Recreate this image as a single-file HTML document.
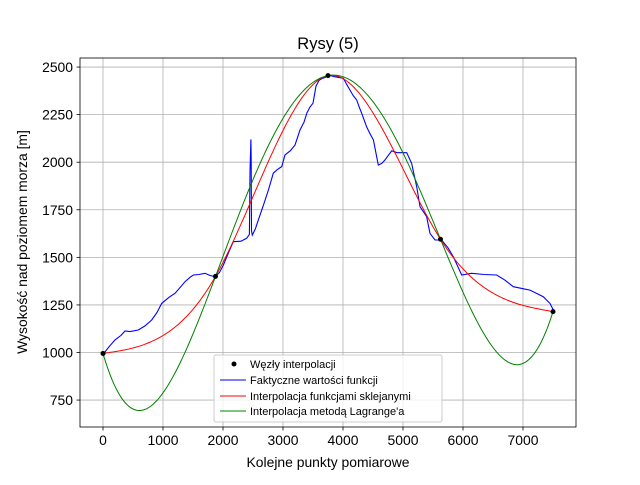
<!DOCTYPE html>
<html><head><meta charset="utf-8"><style>
body{margin:0;background:#fff}
svg text{font-family:"Liberation Sans","DejaVu Sans",sans-serif;fill:#000}
</style></head><body>
<svg id="chart" width="640" height="480" xmlns="http://www.w3.org/2000/svg">
<rect width="640" height="480" fill="#fff"/>
<g id="grid"></g>
<g id="plot"></g>
<rect x="80" y="58" width="496" height="369" fill="none" stroke="#000" stroke-width="0.8"/>
<g id="ticks"></g>
<text x="328" y="49" font-size="16.5" text-anchor="middle">Rysy (5)</text>
<text x="328" y="467" font-size="13.9" text-anchor="middle">Kolejne punkty pomiarowe</text>
<text transform="translate(27,242) rotate(-90)" font-size="13.9" text-anchor="middle">Wysokość nad poziomem morza [m]</text>
<g>
<rect x="214" y="355" width="228" height="67" fill="#fff" fill-opacity="0.8" stroke="#ccc" rx="2"/>
<circle cx="234" cy="364" r="2.5" fill="#000"/>
<text x="250" y="368" font-size="11">Węzły interpolacji</text>
<line x1="220" x2="246" y1="380" y2="380" stroke="blue"/>
<text x="250" y="384" font-size="11">Faktyczne wartości funkcji</text>
<line x1="220" x2="246" y1="396" y2="396" stroke="red"/>
<text x="250" y="400" font-size="11">Interpolacja funkcjami sklejanymi</text>
<line x1="220" x2="246" y1="411" y2="411" stroke="green"/>
<text x="250" y="415" font-size="11">Interpolacja metodą Lagrange'a</text>
</g>
</svg>
<script>
const nodeX=[0,1875,3750,5625,7500];
const nodeY=[995,1400,2455,1595,1215];
const actualX=[0,100,200,300,367,450,589,700,811,900,978,1100,1200,1280,1367,1450,1506,1600,1700,1780,1867,1940,2006,2100,2172,2300,2394,2440,2450,2465,2470,2475,2489,2540,2589,2680,2756,2839,2900,2978,3033,3120,3200,3283,3350,3400,3450,3500,3550,3600,3650,3700,3756,3850,4006,4060,4117,4170,4228,4270,4311,4394,4450,4506,4589,4650,4700,4811,4900,5061,5144,5228,5283,5394,5450,5533,5644,5750,5839,5978,6144,6350,6561,6700,6839,7000,7117,7339,7450,7506];
const actualY=[990,1030,1066,1090,1113,1110,1118,1140,1171,1210,1258,1290,1311,1340,1372,1395,1407,1410,1416,1405,1398,1420,1460,1530,1582,1585,1600,1620,1950,2120,2000,1640,1617,1650,1696,1780,1854,1942,1960,1977,2038,2060,2090,2169,2210,2260,2290,2310,2400,2430,2440,2445,2458,2450,2441,2410,2379,2350,2327,2290,2257,2186,2150,2117,1985,1995,2012,2060,2050,2050,1994,1871,1766,1714,1626,1591,1591,1550,1503,1407,1416,1410,1407,1380,1346,1335,1328,1293,1258,1223];
const xTicks=[0,1000,2000,3000,4000,5000,6000,7000];
const yTicks=[750,1000,1250,1500,1750,2000,2250,2500];
const NS='http://www.w3.org/2000/svg';
function X(v){return 103+v*0.06;}
function Y(v){return 352.5-(v-1000)*0.1903;}
function mk(tag,attrs,parent){const e=document.createElementNS(NS,tag);for(const k in attrs)e.setAttribute(k,attrs[k]);parent.appendChild(e);return e;}
const grid=document.getElementById('grid'),ticks=document.getElementById('ticks'),plot=document.getElementById('plot');
xTicks.forEach(t=>{const x=X(t);
const g=mk('line',{x1:x,x2:x,y1:58,y2:427,stroke:'#b0b0b0','stroke-width':0.8},grid);


mk('line',{x1:x,x2:x,y1:427,y2:430.5,stroke:'#000','stroke-width':0.8},ticks);
const tx=mk('text',{x:x,y:445,'font-size':13.9,'text-anchor':'middle'},ticks);tx.textContent=t;

});
yTicks.forEach(t=>{const y=Y(t);
const g=mk('line',{x1:80,x2:576,y1:y,y2:y,stroke:'#b0b0b0','stroke-width':0.8},grid);


mk('line',{x1:76.5,x2:80,y1:y,y2:y,stroke:'#000','stroke-width':0.8},ticks);
const tx=mk('text',{x:73,y:y+5,'font-size':13.9,'text-anchor':'end'},ticks);tx.textContent=t;

});
let d='';actualX.forEach((v,i)=>{d+=(i?'L':'M')+X(v).toFixed(1)+','+Y(actualY[i]).toFixed(1);});
const pa=mk('path',{d:d,fill:'none',stroke:'blue','stroke-width':1.1},plot);


const n=nodeX.length,h=[];for(let i=0;i<n-1;i++)h.push(nodeX[i+1]-nodeX[i]);
const a=new Array(n).fill(0),b=new Array(n).fill(0),c=new Array(n).fill(0),r=new Array(n).fill(0);
b[0]=1;b[n-1]=1;
for(let i=1;i<n-1;i++){a[i]=h[i-1];b[i]=2*(h[i-1]+h[i]);c[i]=h[i];r[i]=6*((nodeY[i+1]-nodeY[i])/h[i]-(nodeY[i]-nodeY[i-1])/h[i-1]);}
for(let i=1;i<n;i++){const m=a[i]/b[i-1];b[i]-=m*c[i-1];r[i]-=m*r[i-1];}
const M=new Array(n).fill(0);M[n-1]=r[n-1]/b[n-1];for(let i=n-2;i>=0;i--)M[i]=(r[i]-c[i]*M[i+1])/b[i];
function spl(x){let i=0;while(i<n-2&&x>nodeX[i+1])i++;const hi=h[i],t1=nodeX[i+1]-x,t0=x-nodeX[i];
return M[i]*t1*t1*t1/(6*hi)+M[i+1]*t0*t0*t0/(6*hi)+(nodeY[i]/hi-M[i]*hi/6)*t1+(nodeY[i+1]/hi-M[i+1]*hi/6)*t0;}
function lag(x){let s=0;for(let i=0;i<n;i++){let p=nodeY[i];for(let j=0;j<n;j++)if(j!==i)p*=(x-nodeX[j])/(nodeX[i]-nodeX[j]);s+=p;}return s;}
let ds='',dl='';const x0=nodeX[0],x1=nodeX[n-1];
for(let k=0;k<=300;k++){const x=x0+(x1-x0)*k/300;ds+=(k?'L':'M')+X(x).toFixed(1)+','+Y(spl(x)).toFixed(1);dl+=(k?'L':'M')+X(x).toFixed(1)+','+Y(lag(x)).toFixed(1);}
const ps=mk('path',{d:ds,fill:'none',stroke:'red','stroke-width':1},plot);


const pl=mk('path',{d:dl,fill:'none',stroke:'green','stroke-width':1},plot);


nodeX.forEach((v,i)=>{const c=mk('circle',{cx:X(v),cy:Y(nodeY[i]),r:2.5,fill:'#000'},plot);

});
</script>
</body></html>
